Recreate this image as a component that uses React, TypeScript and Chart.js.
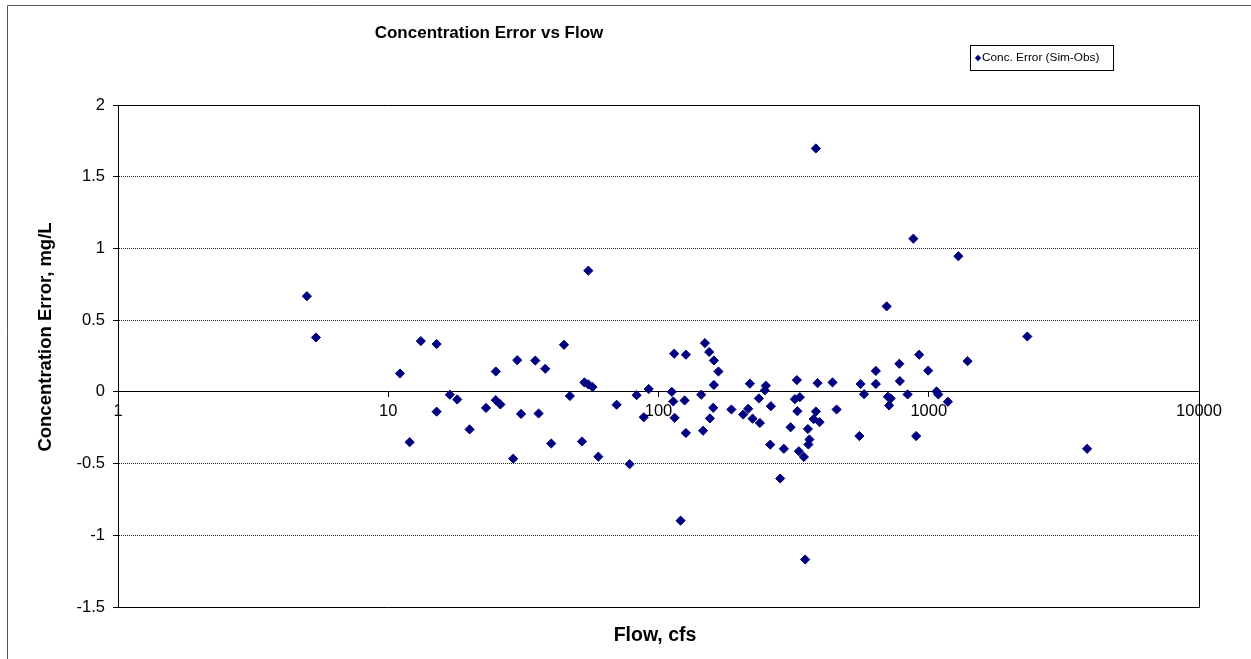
import React, { useEffect, useRef } from 'react';
import { Chart, registerables } from 'chart.js';

Chart.register(...registerables);

// ---- data ----
const flows: number[] = [
  5.0, 5.4, 11.05, 12.0, 13.2, 15.1, 15.1, 16.9, 18.0, 20.0,
  23.0, 25.0, 25.0, 26.0, 29.0, 30.0, 31.0, 35.0, 36.0, 38.1,
  40.1, 44.7, 47.0, 52.1, 53.2, 55.0, 57.0, 55.0, 59.9, 70.0,
  78.2, 83.0, 88.2, 92.0, 112, 114.3, 126.3, 113.4, 114.7, 124.9,
  126.3, 120.7, 143.9, 146.2, 148.5, 154, 160.3, 166.6, 160.3, 159.4,
  155, 186.1, 205.8, 214.7, 217.8, 222.9, 237.2, 235.2, 249.6, 247.5,
  260.5, 259, 282, 291, 308.1, 325.1, 319.6, 333.5, 326.5, 330.7,
  345.1, 357.1, 361.7, 358.6, 348.9, 382.2, 382.2, 387.7, 375.1, 394.5,
  440.6, 456, 553.6, 559.3, 576.2, 637.2, 637.2, 698.7, 706, 722.9,
  713.2, 778.3, 781.7, 835, 877.1, 898.3, 921.6, 995, 1068.8, 1085,
  1177, 1287, 1392, 2316, 3855,
];

const concErrors: number[] = [
  0.667, 0.379, 0.128, -0.351, 0.354, 0.333, -0.138, -0.02, -0.053, -0.262,
  -0.112, 0.142, -0.058, -0.088, -0.466, 0.221, -0.154, 0.218, -0.151, 0.161,
  -0.36, 0.328, -0.029, -0.346, 0.066, 0.052, 0.034, 0.845, -0.452, -0.09,
  -0.504, -0.023, -0.177, 0.02, 0.0, 0.266, 0.259, -0.067, -0.181, -0.06,
  -0.287, -0.898, -0.02, -0.271, 0.34, 0.278, 0.219, 0.142, 0.048, -0.111,
  -0.185, -0.123, -0.158, -0.118, 0.057, -0.187, -0.217, -0.046, 0.043, 0.011,
  -0.1, -0.368, -0.604, -0.397, -0.247, 0.082, -0.051, -0.037, -0.135, -0.414,
  -0.454, -0.259, -0.332, -0.367, -1.169, 1.697, -0.137, 0.061, -0.19, -0.211,
  0.066, -0.123, -0.308, 0.055, -0.016, 0.146, 0.055, 0.596, -0.034, -0.046,
  -0.095, 0.196, 0.075, -0.018, 1.068, -0.308, 0.259, 0.148, 0.003, -0.018,
  -0.069, 0.946, 0.214, 0.386, -0.397,
];

const xTickValues: number[] = [1, 10, 100, 1000, 10000];
const yTickValues: number[] = [-1.5, -1, -0.5, 0, 0.5, 1, 1.5, 2];

const chartTitle = 'Concentration Error vs Flow';
const xAxisTitle = 'Flow, cfs';
const yAxisTitle = 'Concentration Error, mg/L';
const seriesLabel = 'Conc. Error (Sim-Obs)';

const FONT = '"Liberation Sans", Arial, Helvetica, sans-serif';
const MARK = '#000080';

const decorPlugin = {
  id: 'decor',
  beforeDatasetsDraw(chart: any) {
    const { ctx, chartArea } = chart;
    const { left, right, top, bottom } = chartArea;
    ctx.save();
    ctx.strokeStyle = '#000';
    ctx.lineWidth = 1;
    ctx.beginPath();
    ctx.moveTo(Math.round(left) + 0.5, Math.round(top) + 0.5);
    ctx.lineTo(Math.round(right) + 0.5, Math.round(top) + 0.5);
    ctx.lineTo(Math.round(right) + 0.5, Math.round(bottom) + 0.5);
    ctx.lineTo(Math.round(left) + 0.5, Math.round(bottom) + 0.5);
    ctx.stroke();
    ctx.restore();
  },
  afterDraw(chart: any) {
    const { ctx } = chart;
    ctx.save();
    // outer chart border
    ctx.strokeStyle = '#555';
    ctx.lineWidth = 1;
    ctx.beginPath();
    ctx.moveTo(7.5, 700);
    ctx.lineTo(7.5, 5.5);
    ctx.lineTo(1300, 5.5);
    ctx.stroke();

    ctx.fillStyle = '#000';
    ctx.textAlign = 'center';
    ctx.textBaseline = 'middle';
    ctx.font = `bold 17px ${FONT}`;
    ctx.fillText(chartTitle, 489, 33);

    ctx.font = `bold 19.5px ${FONT}`;
    ctx.fillText(xAxisTitle, 655, 636);

    ctx.font = `bold 18.5px ${FONT}`;
    ctx.save();
    ctx.translate(46, 337);
    ctx.rotate(-Math.PI / 2);
    ctx.fillText(yAxisTitle, 0, 0);
    ctx.restore();

    // legend
    const lx = 970.5, ly = 45.5, lw = 143, lh = 25;
    ctx.fillStyle = '#fff';
    ctx.fillRect(lx, ly, lw, lh);
    ctx.strokeStyle = '#000';
    ctx.strokeRect(lx, ly, lw, lh);
    const dx = 978, dy = 58, r = 3.2;
    ctx.fillStyle = MARK;
    ctx.beginPath();
    ctx.moveTo(dx - r, dy);
    ctx.lineTo(dx, dy - r);
    ctx.lineTo(dx + r, dy);
    ctx.lineTo(dx, dy + r);
    ctx.closePath();
    ctx.fill();
    ctx.fillStyle = '#000';
    ctx.textAlign = 'left';
    ctx.font = `11.8px ${FONT}`;
    ctx.fillText(seriesLabel, 982, dy);
    ctx.restore();
  },
};

export default function App() {
  const canvasRef = useRef<HTMLCanvasElement | null>(null);

  useEffect(() => {
    const canvas = canvasRef.current;
    if (!canvas) return;
    const points = flows.map((f, i) => ({ x: f, y: concErrors[i] }));

    const chart = new Chart(canvas, {
      type: 'scatter',
      data: {
        datasets: [
          {
            label: seriesLabel,
            data: points,
            pointStyle: 'rectRot',
            pointRadius: 4.6,
            pointBorderWidth: 1,
            backgroundColor: MARK,
            borderColor: MARK,
            showLine: false,
          },
        ],
      },
      options: {
        responsive: false,
        animation: false,
        devicePixelRatio: 1,
        events: [],
        layout: { padding: { left: 48, right: 52, top: 105, bottom: 52 } },
        plugins: {
          legend: { display: false },
          title: { display: false },
          tooltip: { enabled: false },
        },
        scales: {
          x: {
            type: 'logarithmic',
            min: 1,
            max: 10000,
            position: { y: 0 },
            afterBuildTicks: (scale: any) => {
              scale.ticks = xTickValues.map((v) => ({ value: v }));
            },
            ticks: {
              autoSkip: false,
              maxRotation: 0,
              color: '#000',
              padding: 5,
              font: { family: FONT, size: 16.5 },
              callback: (v: any) => String(v),
            },
            grid: {
              drawOnChartArea: false,
              drawTicks: true,
              tickLength: 5,
              tickColor: '#000',
            },
            border: { display: true, color: '#000', width: 1 },
          },
          y: {
            type: 'linear',
            min: -1.5,
            max: 2,
            afterFit: (scale: any) => {
              scale.width = 70;
            },
            afterBuildTicks: (scale: any) => {
              scale.ticks = yTickValues.map((v) => ({ value: v }));
            },
            ticks: {
              color: '#000',
              padding: 8,
              font: { family: FONT, size: 16.5 },
              callback: (v: any) => String(v),
            },
            grid: {
              color: (c: any) => (c.tick && c.tick.value === 0 ? '#000' : '#222'),
              lineWidth: 1,
              drawTicks: true,
              tickLength: 5,
              tickColor: '#000',
              tickBorderDash: [],
            },
            border: { display: true, color: '#000', width: 1, dash: [1, 1] },
          },
        },
      },
      plugins: [decorPlugin],
    });

    return () => {
      chart.destroy();
    };
  }, []);

  return (
    <div style={{ position: 'fixed', left: 0, top: 0, width: 1251, height: 659, background: '#fff' }}>
      <canvas ref={canvasRef} width={1251} height={659} style={{ display: 'block' }} />
    </div>
  );
}
